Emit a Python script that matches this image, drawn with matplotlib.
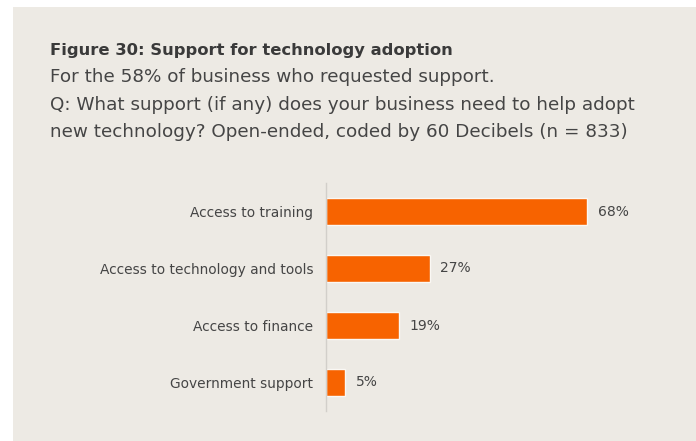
import matplotlib.pyplot as plt
from matplotlib.patches import Rectangle

categories = ["Access to training", "Access to technology and tools",
              "Access to finance", "Government support"]
values = [68, 27, 19, 5]

title = "Figure 30: Support for technology adoption"
subtitle = ["For the 58% of business who requested support.",
            "Q: What support (if any) does your business need to help adopt",
            "new technology? Open-ended, coded by 60 Decibels (n = 833)"]

bg = "#edeae4"
orange = "#f76300"
text_col = "#454545"

plt.rcParams['font.family'] = ['DejaVu Sans']

fig = plt.figure(figsize=(6.96, 4.41), dpi=100)
fig.patch.set_facecolor("white")
# beige panel
fig.patches.append(Rectangle((13 / 696, 0), 1, (441 - 7) / 441, transform=fig.transFigure,
                             facecolor=bg, edgecolor="none", zorder=-10))

W, H = 696, 441
fig.text(50 / W, 1 - 50 / H, title, fontsize=11.8, fontweight="bold", color="#3a3a3a", va="center")
for i, line in enumerate(subtitle):
    fig.text(50 / W, 1 - (77 + i * 27.5) / H, line, fontsize=13.2, color=text_col, va="center")

ax = fig.add_axes([326 / W, (H - 411) / H, 307 / W, 228 / H])
ax.set_facecolor("none")
ypos = range(len(categories))
ax.barh(ypos, values, height=0.46, color=orange, edgecolor="#faf8f4", linewidth=1)
for y, v in zip(ypos, values):
    ax.text(v + 2.8, y, f"{v}%", va="center", ha="left", fontsize=10, color=text_col)

ax.set_xlim(0, 80)
ax.set_ylim(3.5, -0.5)
ax.set_yticks(list(ypos))
ax.set_yticklabels(categories, fontsize=9.9, color=text_col)
ax.tick_params(axis="y", length=0, pad=9)
ax.set_xticks([])
for s in ["top", "right", "bottom"]:
    ax.spines[s].set_visible(False)
ax.spines["left"].set_color("#d2cfca")
ax.spines["left"].set_linewidth(1)

fig.savefig("out.png", dpi=100, facecolor=fig.get_facecolor())
